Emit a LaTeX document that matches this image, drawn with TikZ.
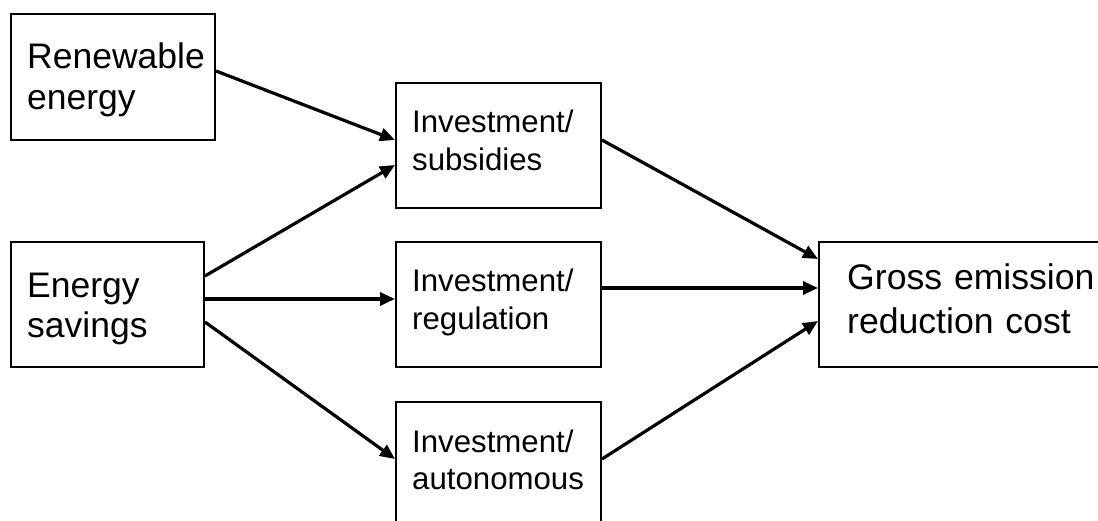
\documentclass[tikz,border=0pt]{standalone}
\usepackage{fontspec}
\setmainfont{Liberation Sans}
\usetikzlibrary{arrows.meta}
\tikzset{
  box/.style={draw=black, line width=2bp, inner sep=0pt},
  bigtxt/.style={anchor=base west, inner sep=0pt, text width=300bp, align=left,
    font=\fontsize{35.5bp}{41bp}\selectfont},
  smalltxt/.style={anchor=base west, inner sep=0pt, text width=300bp, align=left,
    font=\fontsize{31.2bp}{38bp}\selectfont},
  conn/.style={line width=3.2bp, -{Triangle[length=15bp,width=13bp]}}
}
\begin{document}
\begin{tikzpicture}[x=1bp,y=-1bp]
\useasboundingbox[fill=white] (0,0) rectangle (1098,521);
\clip (0,0) rectangle (1098,521);
% boxes
\node[box, minimum width=204bp, minimum height=126bp] (re) at (113,77) {};
\node[box, minimum width=193bp, minimum height=125bp] (es) at (107.5,304.5) {};
\node[box, minimum width=205bp, minimum height=125bp] (is) at (498.5,145.5) {};
\node[box, minimum width=205bp, minimum height=125bp] (ir) at (498.5,304.5) {};
\node[box, minimum width=205bp, minimum height=125bp] (ia) at (498.5,464.5) {};
\node[box, minimum width=290bp, minimum height=125bp] (gc) at (964,304.5) {};
% texts
\node[bigtxt] (re-t) at (27,69) {Renewable\\energy};
\node[bigtxt, font=\fontsize{35.5bp}{40bp}\selectfont] (es-t) at (27,298) {Energy\\savings};
\node[smalltxt] (is-t) at (412,133) {Investment/\\subsidies};
\node[smalltxt] (ir-t) at (412,292) {Investment/\\regulation};
\node[smalltxt, font=\fontsize{31.2bp}{37bp}\selectfont] (ia-t) at (412,452) {Investment/\\autonomous};
\node[bigtxt, font=\fontsize{35.6bp}{44bp}\selectfont] (gc-t) at (847,290) {Gross emission\\reduction cost};
% connectors
\draw[conn] ([yshift=6bp]re.east) -- ([yshift=5.5bp]is.west);
\draw[conn] ([yshift=28.5bp]es.east) -- ([yshift=-19.5bp]is.west);
\draw[conn] ([yshift=5.5bp]es.east) -- ([yshift=5.5bp]ir.west);
\draw[conn] ([yshift=-17.5bp]es.east) -- ([yshift=5.5bp]ia.west);
\draw[conn] ([yshift=5.5bp]is.east) -- ([yshift=45.5bp]gc.west);
\draw[conn] ([yshift=16.5bp]ir.east) -- ([yshift=16.5bp]gc.west);
\draw[conn] ([yshift=5.5bp]ia.east) -- ([yshift=-16.5bp]gc.west);
\end{tikzpicture}
\end{document}
